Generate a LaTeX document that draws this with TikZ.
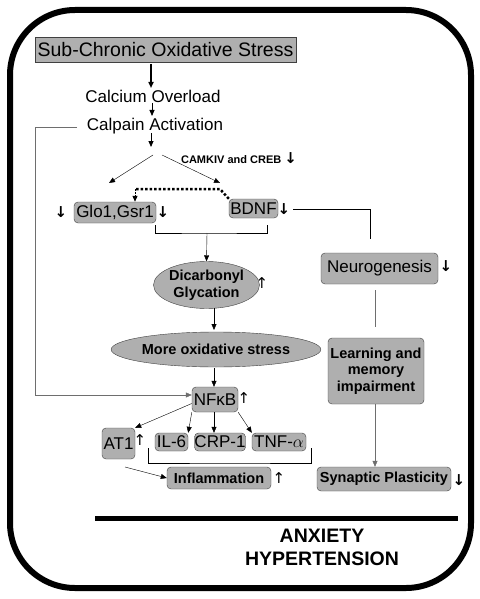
\documentclass[tikz,border=0pt]{standalone}
\usepackage{fontspec}
\setmainfont{Liberation Sans}
\newfontfamily\arrowfont{DejaVu Sans}
\usetikzlibrary{shapes.geometric, arrows.meta}

\definecolor{boxgray}{RGB}{175,175,175}
\definecolor{linegray}{RGB}{110,110,110}

\tikzset{
  lbl/.style={font=\fontsize{17}{20}\selectfont, inner sep=0pt},
  box/.style={draw=black!75, fill=boxgray, rounded corners=4pt, inner sep=0pt, font=\fontsize{17}{20}\selectfont},
  bbox/.style={box, font=\fontsize{14.5}{16.5}\selectfont\bfseries, align=center},
  oval/.style={ellipse, draw=black!75, fill=boxgray, inner sep=0pt, font=\fontsize{14.5}{16.5}\selectfont\bfseries, align=center},
  updn/.style={font=\arrowfont\bfseries\fontsize{15}{15}\selectfont, inner sep=0pt},
  uplt/.style={font=\arrowfont\fontsize{15}{15}\selectfont, inner sep=0pt},
  arr/.style={-{Triangle[length=6pt,width=5pt]}},
}

\begin{document}
\begin{tikzpicture}[x=1pt,y=-1pt]
\useasboundingbox (0,0) rectangle (479,599);
\draw[line width=6pt, rounded corners=65pt] (10,10) rectangle (471,588);

% top chain
\node[box, rounded corners=0pt, minimum width=261pt, minimum height=25pt,
  font=\fontsize{19.5}{22}\selectfont] (stress) at (165.5,49.5) {Sub-Chronic Oxidative Stress};
\node[lbl] (calcium) at (153,96) {Calcium Overload};
\node[lbl] (calpain) at (155,126) {Calpain Activation};
\coordinate (s1) at (151,64);
\coordinate (s2) at (151,88);
\coordinate (c1) at (152,103);
\coordinate (c2) at (152,116);
\coordinate (p1) at (151,133);
\coordinate (p2) at (151,147);
\draw[line width=1.5pt, arr] (s1) -- (s2);
\draw[thick, arr] (c1) -- (c2);
\draw[thick, arr] (p1) -- (p2);

% split
\coordinate (sL) at (153,155);
\coordinate (sR) at (162,155);
\coordinate (tL) at (109,183);
\coordinate (tR) at (220,183);
\draw[arr] (sL) -- (tL);
\draw[arr] (sR) -- (tR);
\node[font=\fontsize{11}{13}\selectfont\bfseries, inner sep=0pt] (camk) at (239,158)
  {CAMKIV and CREB {\arrowfont\bfseries\fontsize{15}{15}\selectfont↓}};

% Glo1 and BDNF
\node[box, minimum width=82pt, minimum height=21pt] (glo) at (115,212.5) {Glo1,Gsr1};
\node[box, minimum width=49pt, minimum height=19pt] (bdnf) at (253.5,208.5) {BDNF};
\node[updn] (gloL) at (61,212) {↓};
\node[updn] (gloR) at (163,212) {↓};
\node[updn] (bdnfD) at (284,209) {↓};

\coordinate (dl) at (135,189);
\coordinate (dr) at (220,189);
\draw[line width=2.5pt, dash pattern=on 2.5pt off 2pt] (bdnf.north west) -- (dr) -- (dl);
\draw[line width=1pt, dash pattern=on 1.5pt off 1.5pt, arr] (dl) -- (glo.north -| dl);

\coordinate (n1) at (370,239);
\draw (bdnfD.east) ++(3,0) -| (n1);

\coordinate (b1) at (155,225);
\coordinate (b2) at (267,225);
\coordinate (bm) at (207,233);
\draw (b1) |- (bm) -| (b2);

% glycation and oxidative stress
\node[oval, minimum width=93pt, minimum height=47pt] (dicarb) at (206.5,285) {Dicarbonyl\\Glycation};
\node[uplt] (dicarbU) at (262,283) {↑};
\draw[arr] (bm) -- (dicarb.north);

\node[oval, minimum width=178pt, minimum height=35pt] (more) at (216,349.5) {More oxidative stress};
\coordinate (d1) at (214,308);
\coordinate (d2) at (214,330);
\draw[arr] (d1) -- (d2);

% NFkB
\node[box, minimum width=46pt, minimum height=25pt] (nfkb) at (215,399.5) {NFκB};
\node[uplt] (nfkbU) at (244,398) {↑};
\coordinate (m1) at (214,368);
\draw[arr] (m1) -- (nfkb.north -| m1);

\coordinate (l1) at (77,127);
\coordinate (l2) at (35,395);
\draw[linegray] (l1) -| (l2);
\draw[linegray, arr] (l2) -- (nfkb.west |- l2);

\node[box, minimum width=33pt, minimum height=31pt] (at1) at (118.5,443.5) {AT1};
\node[uplt] (at1U) at (140,440) {↑};
\node[box, minimum width=33pt, minimum height=18pt] (il6) at (171.5,442) {IL-6};
\node[box, minimum width=50pt, minimum height=18pt] (crp) at (220,442) {CRP-1};
\node[box, minimum width=54pt, minimum height=18pt] (tnf) at (279,442) {TNF-$\alpha$};

\draw[arr] (nfkb.west) ++(0,4) -- (at1.north east);
\draw[arr] (nfkb.south west) -- (il6.north east);
\draw[arr] (nfkb.south -| m1) -- (crp.north -| m1);
\draw[arr] (nfkb.south east) -- (tnf.north west);

\coordinate (k1) at (148,448);
\coordinate (k2) at (311,448);
\coordinate (km) at (230,463);
\draw (k1) |- (km) -| (k2);

\node[bbox, minimum width=104pt, minimum height=22pt] (inflam) at (219,478) {Inflammation};
\node[uplt] (inflamU) at (279,478) {↑};
\coordinate (a1) at (125,467);
\draw[arr] (a1) -- (inflam.west);

% right column
\node[box, minimum width=117pt, minimum height=31pt] (neuro) at (379.5,268.5) {Neurogenesis};
\node[updn] (neuroD) at (446,266) {↓};
\node[bbox, minimum width=96pt, minimum height=66pt] (learn) at (376,371) {Learning and\\memory\\impairment};
\node[bbox, minimum width=134pt, minimum height=24pt] (synap) at (384,479) {Synaptic Plasticity};
\node[updn] (synapD) at (459,480) {↓};
\coordinate (r1) at (375,290);
\coordinate (r2) at (375,327);
\draw[linegray] (r1) -- (r2);
\draw[linegray, arr] (learn.south -| r1) -- (synap.north -| r1);

% bottom
\coordinate (e1) at (95,518);
\coordinate (e2) at (458,518);
\draw[line width=5pt] (e1) -- (e2);
\node[font=\fontsize{19.5}{23}\selectfont\bfseries, align=center] (outcome) at (322,547.5) {ANXIETY\\HYPERTENSION};
\end{tikzpicture}
\end{document}
